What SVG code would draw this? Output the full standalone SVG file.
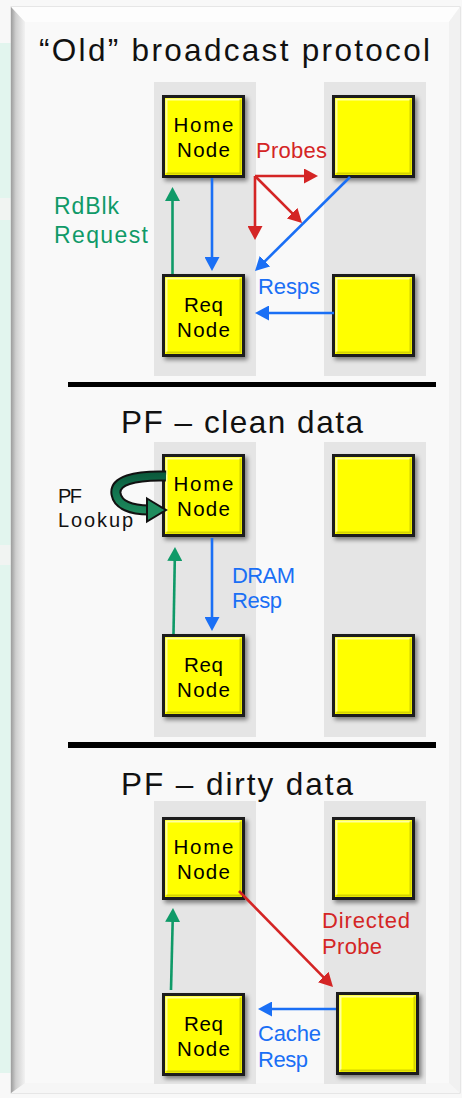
<svg xmlns="http://www.w3.org/2000/svg" xmlns:xlink="http://www.w3.org/1999/xlink" width="462" height="1098" viewBox="0 0 462 1098">
  <style>
    .title { font-family: "Liberation Sans", Arial, sans-serif; font-size: 31.5px; fill: #111; }
    .nt { font-family: "Liberation Sans", Arial, sans-serif; font-size: 20.5px; fill: #000; text-anchor: middle; }
    .lbl { font-family: "Liberation Sans", Arial, sans-serif; font-size: 22px; }
    .big { font-size: 23px; }
    .green { fill: #0f9a68; }
    .blue { fill: #1a6ff5; }
    .red { fill: #d42525; }
    .black { fill: #111; }
    .col { fill: #e5e5e5; }
    .sep { fill: #000; }
    .ln { fill: none; stroke-width: 2.6; }
    .lg { stroke: #0f9a68; marker-end: url(#ah-green); }
    .lb { stroke: #1a6ff5; marker-end: url(#ah-blue); }
    .lr { stroke: #d42525; marker-end: url(#ah-red); }
  </style>
  <defs>
    <filter id="shadow" x="-20%" y="-20%" width="150%" height="150%">
      <feDropShadow dx="2.5" dy="3" stdDeviation="2" flood-color="#000" flood-opacity="0.45"/>
    </filter>
    <linearGradient id="bevel-left" x1="0" y1="0" x2="1" y2="0">
      <stop offset="0" stop-color="#9c9c9c"/>
      <stop offset="0.35" stop-color="#cfcfcf"/>
      <stop offset="1" stop-color="#f2f2f2"/>
    </linearGradient>
    <linearGradient id="lookup-fill" gradientUnits="userSpaceOnUse" x1="0" y1="470" x2="0" y2="516">
      <stop offset="0" stop-color="#0a5538"/>
      <stop offset="0.5" stop-color="#137550"/>
      <stop offset="1" stop-color="#1f8c5e"/>
    </linearGradient>
    <marker id="ah-green" markerUnits="userSpaceOnUse" viewBox="0 0 14 15" markerWidth="14" markerHeight="15" refX="8" refY="7.5" orient="auto">
      <path d="M0,0 L14,7.5 L0,15 Z" fill="#0f9a68"/>
    </marker>
    <marker id="ah-blue" markerUnits="userSpaceOnUse" viewBox="0 0 14 15" markerWidth="14" markerHeight="15" refX="8" refY="7.5" orient="auto">
      <path d="M0,0 L14,7.5 L0,15 Z" fill="#1a6ff5"/>
    </marker>
    <marker id="ah-red" markerUnits="userSpaceOnUse" viewBox="0 0 14 15" markerWidth="14" markerHeight="15" refX="8" refY="7.5" orient="auto">
      <path d="M0,0 L14,7.5 L0,15 Z" fill="#d42525"/>
    </marker>
    <!-- yellow node box, 83 x 83 -->
    <g id="box">
      <rect x="1.5" y="1.5" width="80" height="80" fill="#ffff00" stroke="#1e1e1e" stroke-width="3" filter="url(#shadow)"/>
      <path d="M4.5,78 V4.5 H78.5" fill="none" stroke="#ffffa0" stroke-width="2"/>
      <path d="M4.5,78.5 H78.5 V4.5" fill="none" stroke="#d4d400" stroke-width="2"/>
    </g>
  </defs>

  <!-- page background -->
  <rect x="0" y="0" width="462" height="1098" fill="#f8f8f8"/>
  <rect x="0" y="43" width="11" height="1030" fill="#e2f5ee"/>
  <rect x="0" y="198" width="11" height="22" fill="#f1f4f2"/>
  <rect x="0" y="545" width="11" height="20" fill="#f1f4f2"/>

  <!-- bevelled panel -->
  <g id="panel">
    <rect x="11" y="7" width="449" height="1086" fill="#f4f4f4" stroke="#d4d4d4" stroke-width="1"/>
    <polygon points="11,7 460,7 449,22 25,22" fill="#fdfdfd"/>
    <polygon points="460,7 460,1093 449,1083 449,22" fill="#f1f1f1"/>
    <polygon points="11,1093 460,1093 449,1083 25,1083" fill="#f6f6f6"/>
    <polygon points="11,7 25,22 25,1083 11,1093" fill="url(#bevel-left)"/>
    <rect x="25" y="22" width="424" height="1061" fill="#f9f9f9"/>
  </g>

  <!-- column bands -->
  <g id="columns">
    <rect class="col" x="154" y="82" width="102" height="294"/>
    <rect class="col" x="324" y="82" width="102" height="294"/>
    <rect class="col" x="154" y="442" width="102" height="295"/>
    <rect class="col" x="324" y="442" width="102" height="295"/>
    <rect class="col" x="154" y="801" width="102" height="283"/>
    <rect class="col" x="324" y="801" width="102" height="283"/>
  </g>

  <!-- section titles and separators -->
  <g id="titles">
    <text class="title" x="39" y="61" textLength="391">“Old” broadcast protocol</text>
    <rect class="sep" x="68" y="382" width="368" height="5"/>
    <text class="title" x="121" y="433" textLength="242">PF – clean data</text>
    <rect class="sep" x="68" y="742" width="368" height="6"/>
    <text class="title" x="121" y="795" textLength="232">PF – dirty data</text>
  </g>

  <!-- section 1: broadcast -->
  <g id="s1-home">
    <use href="#box" x="162" y="95"/>
    <text class="nt" x="203.5" y="132" textLength="60">Home</text>
    <text class="nt" x="203.5" y="157" textLength="53">Node</text>
  </g>
  <g id="s1-peer-top"><use href="#box" x="332" y="95"/></g>
  <g id="s1-req">
    <use href="#box" x="162" y="274"/>
    <text class="nt" x="203.5" y="312" textLength="39">Req</text>
    <text class="nt" x="203.5" y="337" textLength="53">Node</text>
  </g>
  <g id="s1-peer-bottom"><use href="#box" x="332" y="274"/></g>

  <!-- section 2: clean data -->
  <g id="s2-home">
    <use href="#box" x="162" y="454"/>
    <text class="nt" x="203.5" y="491" textLength="60">Home</text>
    <text class="nt" x="203.5" y="516" textLength="53">Node</text>
  </g>
  <g id="s2-peer-top"><use href="#box" x="332" y="454"/></g>
  <g id="s2-req">
    <use href="#box" x="162" y="634"/>
    <text class="nt" x="203.5" y="672" textLength="39">Req</text>
    <text class="nt" x="203.5" y="697" textLength="53">Node</text>
  </g>
  <g id="s2-peer-bottom"><use href="#box" x="332" y="634"/></g>

  <!-- section 3: dirty data -->
  <g id="s3-home">
    <use href="#box" x="162" y="817"/>
    <text class="nt" x="203.5" y="854" textLength="60">Home</text>
    <text class="nt" x="203.5" y="879" textLength="53">Node</text>
  </g>
  <g id="s3-peer-top"><use href="#box" x="332" y="817"/></g>
  <g id="s3-req">
    <use href="#box" x="162" y="993"/>
    <text class="nt" x="203.5" y="1031" textLength="39">Req</text>
    <text class="nt" x="203.5" y="1056" textLength="53">Node</text>
  </g>
  <g id="s3-owner"><use href="#box" x="336" y="992"/></g>

  <!-- connectors -->
  <g id="connectors">
    <!-- section 1 -->
    <line class="ln lg" x1="172.5" y1="274" x2="172.5" y2="193"/>
    <line class="ln lb" x1="212" y1="178" x2="212" y2="265"/>
    <line class="ln lr" x1="255" y1="176" x2="312" y2="176"/>
    <line class="ln lr" x1="255" y1="176" x2="255" y2="234"/>
    <line class="ln lr" x1="255" y1="176" x2="297.8" y2="218.8"/>
    <line class="ln lb" x1="350" y1="177" x2="259.3" y2="266.8"/>
    <line class="ln lb" x1="334" y1="313" x2="261" y2="313"/>
    <!-- section 2 -->
    <line class="ln lg" x1="173.5" y1="634" x2="174.9" y2="553"/>
    <line class="ln lb" x1="212" y1="538" x2="212" y2="625"/>
    <g id="pf-lookup">
      <path d="M166,476 C 134,475 114,481 116,494 C 118,505 131,510 149,510" fill="none" stroke="#111" stroke-width="11"/>
      <path d="M166,476 C 134,475 114,481 116,494 C 118,505 131,510 149,510" fill="none" stroke="url(#lookup-fill)" stroke-width="7"/>
      <polygon points="147,498.5 166,510 147,521.5" fill="#1f8c5e" stroke="#111" stroke-width="2" stroke-linejoin="miter"/>
    </g>
    <!-- section 3 -->
    <line class="ln lg" x1="171" y1="990" x2="172.85" y2="914"/>
    <line class="ln lr" x1="239" y1="891" x2="328.8" y2="982.7"/>
    <line class="ln lb" x1="336" y1="1009" x2="264" y2="1009"/>
  </g>

  <!-- connector labels -->
  <g id="labels">
    <text class="lbl red" x="256" y="158" textLength="71">Probes</text>
    <text class="lbl big green" x="54" y="214" textLength="65">RdBlk</text>
    <text class="lbl big green" x="54" y="243" textLength="94">Request</text>
    <text class="lbl blue" x="258" y="294" textLength="62">Resps</text>
    <text class="lbl black" x="58" y="503" textLength="24" style="font-size:20px">PF</text>
    <text class="lbl black" x="58" y="527" textLength="75" style="font-size:20px">Lookup</text>
    <text class="lbl blue" x="232" y="583" textLength="63">DRAM</text>
    <text class="lbl blue" x="232" y="608" textLength="50">Resp</text>
    <text class="lbl red" x="322" y="928" textLength="88">Directed</text>
    <text class="lbl red" x="322" y="954" textLength="60">Probe</text>
    <text class="lbl blue" x="258" y="1041" textLength="63">Cache</text>
    <text class="lbl blue" x="258" y="1067" textLength="50">Resp</text>
  </g>
</svg>
